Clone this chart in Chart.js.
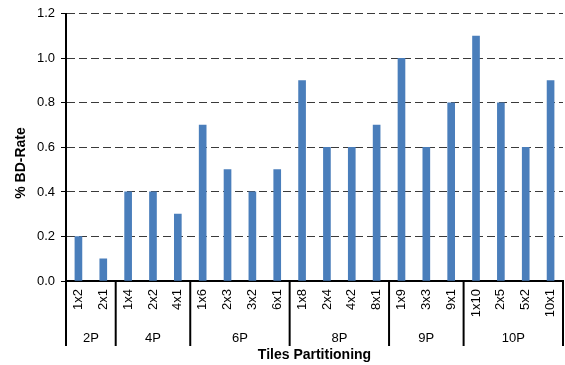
<!DOCTYPE html>
<html>
<head>
<meta charset="utf-8">
<script src="https://cdn.jsdelivr.net/npm/chart.js@4/dist/chart.umd.min.js"></script>
<style>
  html, body { margin: 0; padding: 0; background: #fff; }
  #wrap { width: 565px; height: 365px; }
</style>
</head>
<body>
<div id="wrap"><canvas id="c" width="565" height="365"></canvas></div>
<script>
// Tile layouts, grouped by number of partitions
const tileLabels = ['1x2', '2x1', '1x4', '2x2', '4x1', '1x6', '2x3', '3x2', '6x1',
                    '1x8', '2x4', '4x2', '8x1', '1x9', '3x3', '9x1', '1x10', '2x5', '5x2', '10x1'];
const groupLabels = ['2P', '4P', '6P', '8P', '9P', '10P'];
const groupSizes = [2, 3, 4, 4, 3, 4];
const bdRate = [0.2, 0.1, 0.4, 0.4, 0.3, 0.7, 0.5, 0.4, 0.5,
                0.9, 0.6, 0.6, 0.7, 1.0, 0.6, 0.8, 1.1, 0.8, 0.6, 0.9];
const yTicks = [0, 0.2, 0.4, 0.6, 0.8, 1.0, 1.2];
const yTitle = '% BD-Rate';
const xTitle = 'Tiles Partitioning';

const FONT = '"Liberation Sans", Arial, sans-serif';
Chart.defaults.font.family = FONT;
Chart.defaults.font.size = 13;
Chart.defaults.color = '#000';

// Second row of the category axis (group names with vertical separators)
// and the value-axis title, placed from the scales' own geometry
const groupAxis = {
  id: 'groupAxis',
  afterDraw(chart) {
    const x = chart.scales.x;
    const y = chart.scales.y;
    const ctx = chart.ctx;
    const top = x.top;
    const bottom = top + 65;
    const edge = (i) => {
      if (i <= 0) return x.left;
      if (i >= tileLabels.length) return x.right;
      return (x.getPixelForValue(i - 1) + x.getPixelForValue(i)) / 2;
    };
    ctx.save();
    ctx.strokeStyle = '#000';
    ctx.lineWidth = 2;
    ctx.fillStyle = '#000';
    ctx.font = '13px ' + FONT;
    ctx.textAlign = 'center';
    ctx.textBaseline = 'middle';
    let start = 0;
    groupSizes.forEach((n, g) => {
      const a = edge(start), b = edge(start + n);
      ctx.beginPath();
      ctx.moveTo(a, top); ctx.lineTo(a, bottom);
      ctx.stroke();
      ctx.fillText(groupLabels[g], (a + b) / 2, top + 57);
      start += n;
    });
    const r = edge(start);
    ctx.beginPath();
    ctx.moveTo(r, top); ctx.lineTo(r, bottom);
    ctx.stroke();

    // value-axis title, rotated, centred a little below the middle of 0.0–1.2
    ctx.font = 'bold 14px ' + FONT;
    ctx.translate(21, y.getPixelForValue(0.53));
    ctx.rotate(-Math.PI / 2);
    ctx.fillText(yTitle, 0, 0);
    ctx.restore();
  }
};

new Chart(document.getElementById('c'), {
  type: 'bar',
  data: {
    labels: tileLabels,
    datasets: [{
      data: bdRate,
      backgroundColor: '#4a7ebb',
      borderWidth: 0,
      barThickness: 7
    }]
  },
  options: {
    responsive: false,
    animation: false,
    devicePixelRatio: 1,
    layout: { padding: { left: 11, right: 2, top: 7, bottom: 1 } },
    plugins: { legend: { display: false }, tooltip: { enabled: false } },
    scales: {
      x: {
        grid: { display: false, drawTicks: false },
        border: { display: true, color: '#000', width: 2 },
        ticks: { minRotation: 90, maxRotation: 90, padding: 8, autoSkip: false, color: '#000', font: { size: 13 } },
        title: { display: true, text: xTitle, font: { size: 14, weight: 'bold' }, padding: 0, color: '#000' },
        afterFit(scale) {
          scale.height = 83;
          scale.paddingLeft = 0;
          scale.paddingRight = 0;
        }
      },
      y: {
        min: 0,
        max: 1.2,
        afterBuildTicks(scale) { scale.ticks = yTicks.map(v => ({ value: v })); },
        grid: { color: '#3a3a3a', lineWidth: 1, drawTicks: true, tickLength: 5, tickColor: '#000', tickBorderDash: [] },
        border: { display: true, color: '#000', width: 2, dash: [8, 4] },
        ticks: { padding: 6, color: '#000', font: { size: 13 }, callback: (v) => Number(v).toFixed(1) },
        afterFit(scale) { scale.width = 55; }
      }
    }
  },
  plugins: [groupAxis]
});
</script>
</body>
</html>
